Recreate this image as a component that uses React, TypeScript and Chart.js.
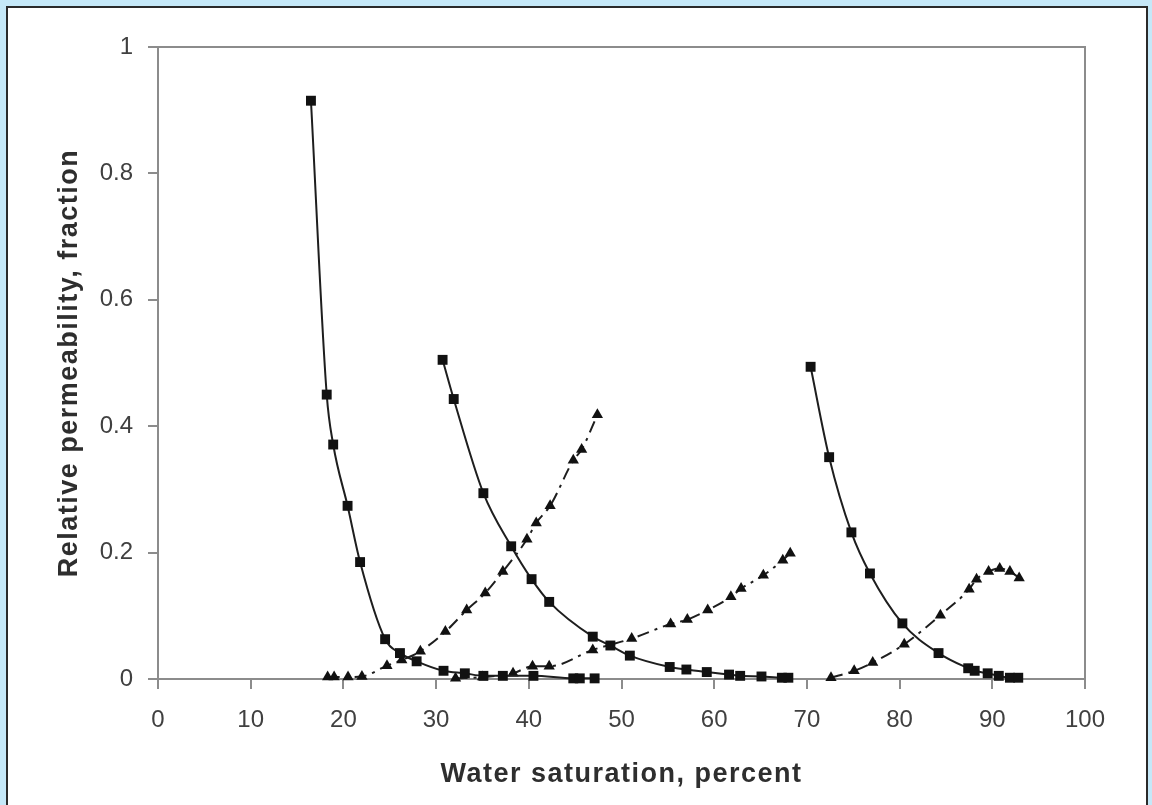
import React, { useEffect, useRef } from "react";
import { Chart, registerables } from "chart.js";

Chart.register(...registerables);

// Series 1: oil (squares, solid), first run
const s1X = [16.5, 18.2, 18.9, 20.45, 21.8, 24.5, 26.1, 27.9, 30.8, 33.1, 35.1, 37.2, 40.5, 44.8, 45.5, 47.1];
const s1Y = [0.915, 0.45, 0.371, 0.274, 0.185, 0.063, 0.041, 0.028, 0.013, 0.009, 0.005, 0.005, 0.005, 0.001, 0.001, 0.001];
// Series 2: water (triangles, dashed), first run
const s2X = [18.3, 19.0, 20.5, 22.0, 24.7, 26.3, 28.3, 31.0, 33.3, 35.3, 37.2, 39.8, 40.8, 42.3, 44.8, 45.7, 47.4];
const s2Y = [0.003, 0.003, 0.003, 0.004, 0.021, 0.03, 0.044, 0.075, 0.109, 0.136, 0.17, 0.221, 0.247, 0.274, 0.346, 0.363, 0.418];
// Series 3: oil (squares, solid), second run
const s3X = [30.7, 31.9, 35.1, 38.1, 40.3, 42.2, 46.9, 48.8, 50.9, 55.2, 57.0, 59.2, 61.6, 62.8, 65.1, 67.3, 68.0];
const s3Y = [0.505, 0.443, 0.294, 0.21, 0.158, 0.122, 0.067, 0.053, 0.037, 0.019, 0.015, 0.011, 0.007, 0.005, 0.004, 0.002, 0.002];
// Series 4: water (triangles, dashed), second run
const s4X = [32.1, 35.0, 38.3, 40.4, 42.2, 46.9, 51.1, 55.3, 57.1, 59.3, 61.8, 62.9, 65.3, 67.4, 68.2];
const s4Y = [0.001, 0.003, 0.009, 0.02, 0.02, 0.046, 0.064, 0.087, 0.094, 0.109, 0.13, 0.143, 0.164, 0.188, 0.199];
// Series 5: oil (squares, solid), third run
const s5X = [70.4, 72.4, 74.8, 76.8, 80.3, 84.2, 87.4, 88.1, 89.5, 90.7, 91.9, 92.8];
const s5Y = [0.494, 0.351, 0.232, 0.167, 0.088, 0.041, 0.017, 0.013, 0.009, 0.005, 0.002, 0.002];
// Series 6: water (triangles, dashed), third run
const s6X = [72.6, 75.1, 77.1, 80.5, 84.4, 87.5, 88.3, 89.6, 90.8, 91.9, 92.9];
const s6Y = [0.002, 0.013, 0.026, 0.055, 0.101, 0.142, 0.158, 0.17, 0.175, 0.17, 0.16];

const xTicks = [0, 10, 20, 30, 40, 50, 60, 70, 80, 90, 100];
const yTicks = [0, 0.2, 0.4, 0.6, 0.8, 1];
const xTitle = "Water saturation, percent";
const yTitle = "Relative permeability, fraction";

const FONT = "'Liberation Sans', Arial, sans-serif";
const AXIS = "#8c8c8c";
const TITLE_COLOR = "#2e2e2e";

function pts(xs: number[], ys: number[]) {
  return xs.map((x, i) => ({ x, y: ys[i] }));
}

function oilSet(xs: number[], ys: number[]) {
  return {
    data: pts(xs, ys),
    showLine: true,
    borderColor: "#1e1e1e",
    borderWidth: 2,
    pointStyle: "rect",
    pointRadius: 7,
    pointBackgroundColor: "#111",
    pointBorderColor: "#111",
    pointBorderWidth: 0,
    cubicInterpolationMode: "monotone",
    clip: false,
  };
}

function waterSet(xs: number[], ys: number[]) {
  return {
    data: pts(xs, ys),
    showLine: true,
    borderColor: "#1e1e1e",
    borderWidth: 2,
    borderDash: [12, 6, 3, 6],
    pointStyle: "triangle",
    pointRadius: 6.5,
    pointBackgroundColor: "#111",
    pointBorderColor: "#111",
    pointBorderWidth: 0,
    cubicInterpolationMode: "monotone",
    clip: false,
  };
}

const frame = {
  id: "frame",
  beforeDatasetsDraw(chart: any) {
    const { ctx, chartArea } = chart;
    ctx.save();
    ctx.strokeStyle = AXIS;
    ctx.lineWidth = 2;
    ctx.beginPath();
    ctx.moveTo(chartArea.left, chartArea.top);
    ctx.lineTo(chartArea.right, chartArea.top);
    ctx.lineTo(chartArea.right, chartArea.bottom);
    ctx.stroke();
    ctx.restore();
  },
};

const axisTitles = {
  id: "axisTitles",
  afterDraw(chart: any) {
    const { ctx, chartArea } = chart;
    ctx.save();
    ctx.font = `bold 27px ${FONT}`;
    ctx.fillStyle = TITLE_COLOR;
    ctx.textAlign = "center";
    ctx.textBaseline = "alphabetic";
    (ctx as any).letterSpacing = "1.5px";
    ctx.fillText(xTitle, (chartArea.left + chartArea.right) / 2, 782);
    ctx.translate(77, (chartArea.top + chartArea.bottom) / 2);
    ctx.rotate(-Math.PI / 2);
    ctx.fillText(yTitle, 0, 0);
    ctx.restore();
  },
};

export default function App() {
  const ref = useRef<HTMLCanvasElement | null>(null);
  useEffect(() => {
    if (!ref.current) return;
    Chart.defaults.font.family = FONT;
    const chart = new Chart(ref.current, {
      type: "scatter",
      data: {
        datasets: [
          oilSet(s1X, s1Y),
          waterSet(s2X, s2Y),
          oilSet(s3X, s3Y),
          waterSet(s4X, s4Y),
          oilSet(s5X, s5Y),
          waterSet(s6X, s6Y),
        ] as any,
      },
      options: {
        responsive: false,
        animation: false,
        layout: { padding: { left: 0, right: 67, top: 47, bottom: 0 } },
        plugins: { legend: { display: false }, tooltip: { enabled: false } },
        scales: {
          x: {
            type: "linear",
            min: 0,
            max: 100,
            afterBuildTicks: (s: any) => {
              s.ticks = xTicks.map((v) => ({ value: v }));
            },
            afterFit: (s: any) => {
              s.height = 126;
            },
            ticks: {
              font: { size: 24 },
              color: "#404040",
              padding: 17,
              callback: (v: any) => String(v),
            },
            grid: { drawOnChartArea: false, tickLength: 10, color: AXIS, lineWidth: 2 },
            border: { display: true, color: AXIS, width: 2 },
            title: { display: false, text: xTitle },
          },
          y: {
            type: "linear",
            min: 0,
            max: 1,
            afterBuildTicks: (s: any) => {
              s.ticks = yTicks.map((v) => ({ value: v }));
            },
            afterFit: (s: any) => {
              s.width = 158;
            },
            ticks: {
              font: { size: 24 },
              color: "#404040",
              padding: 15,
              callback: (v: any) => String(Math.round(v * 10) / 10),
            },
            grid: { drawOnChartArea: false, tickLength: 10, color: AXIS, lineWidth: 2 },
            border: { display: true, color: AXIS, width: 2 },
            title: { display: false, text: yTitle },
          },
        },
      } as any,
      plugins: [frame, axisTitles],
    });
    return () => chart.destroy();
  }, []);

  return (
    <div
      style={{
        position: "absolute",
        left: 0,
        top: 0,
        width: 1152,
        height: 805,
        background: "#c5e8f8",
        overflow: "hidden",
      }}
    >
      <div
        style={{
          position: "absolute",
          left: 6,
          top: 6,
          width: 1142,
          height: 830,
          background: "#ffffff",
          border: "2px solid #2a2a2a",
          boxSizing: "border-box",
        }}
      />
      <canvas
        ref={ref}
        width={1152}
        height={805}
        style={{ position: "absolute", left: 0, top: 0, width: 1152, height: 805 }}
      />
    </div>
  );
}
